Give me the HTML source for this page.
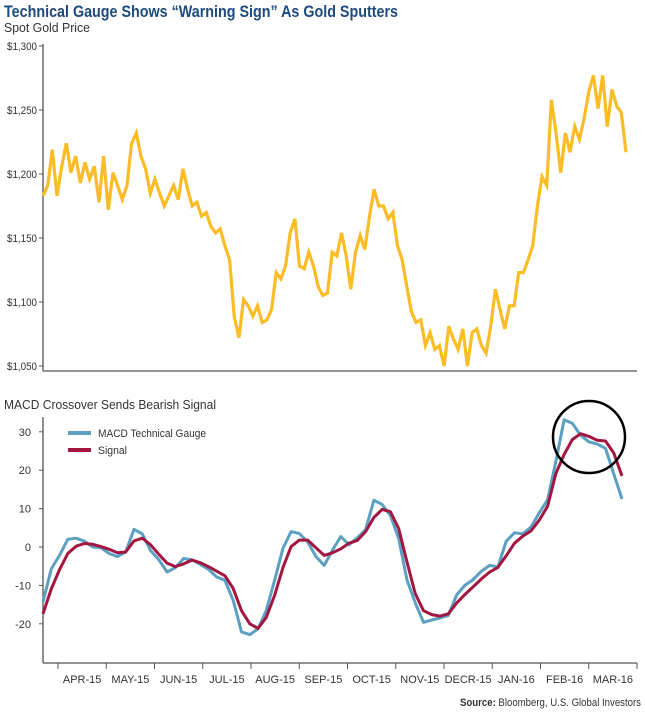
<!DOCTYPE html>
<html><head><meta charset="utf-8">
<style>
html,body{margin:0;padding:0;background:#fff;}
body{width:645px;height:714px;overflow:hidden;font-family:"Liberation Sans Narrow","Liberation Sans",sans-serif;}
svg text{font-family:"Liberation Sans Narrow","Liberation Sans",sans-serif;}
</style></head>
<body>
<svg id="chart" width="645" height="714" viewBox="0 0 645 714" xmlns="http://www.w3.org/2000/svg">
<text x="4" y="17" font-size="16.5" font-weight="bold" fill="#1d4a7c" textLength="394" lengthAdjust="spacingAndGlyphs">Technical Gauge Shows “Warning Sign” As Gold Sputters</text>
<text x="4" y="32" font-size="13" fill="#333" textLength="86" lengthAdjust="spacingAndGlyphs">Spot Gold Price</text>
<text x="4" y="409" font-size="13" fill="#333" textLength="212" lengthAdjust="spacingAndGlyphs">MACD Crossover Sends Bearish Signal</text>
<g id="goldAxes"></g>
<g id="goldSeries"></g>
<g id="macdAxes"></g>
<g id="macdSeries"></g>
<g>
<line x1="68" y1="433" x2="91" y2="433" stroke="#5b9fc2" stroke-width="4"/>
<text x="98" y="437" font-size="11" fill="#333" textLength="108" lengthAdjust="spacingAndGlyphs">MACD Technical Gauge</text>
<line x1="68" y1="450" x2="91" y2="450" stroke="#a3163f" stroke-width="4"/>
<text x="98" y="454" font-size="11" fill="#333" textLength="29" lengthAdjust="spacingAndGlyphs">Signal</text>
</g>
<ellipse cx="589" cy="437" rx="36" ry="36" fill="none" stroke="#000" stroke-width="2.5"/>
<text x="641" y="706" font-size="11" fill="#333" text-anchor="end" textLength="181" lengthAdjust="spacingAndGlyphs"><tspan font-weight="bold">Source:</tspan> Bloomberg, U.S. Global Investors</text>
</svg>
<script>
const goldTicks=[1050,1100,1150,1200,1250,1300];
const goldTickLabels=["$1,050","$1,100","$1,150","$1,200","$1,250","$1,300"];
const goldPrices=[1183,1191,1219,1183,1206,1224,1201,1214,1193,1209,1196,1206,1178,1214,1172,1201,1191,1180,1191,1224,1232,1214,1204,1185,1196,1185,1175,1183,1191,1180,1204,1188,1175,1178,1167,1170,1159,1154,1157,1144,1133,1089,1072,1102,1097,1089,1097,1084,1086,1094,1123,1118,1128,1154,1165,1128,1126,1139,1128,1112,1105,1107,1139,1136,1154,1136,1110,1139,1152,1141,1167,1188,1175,1175,1165,1170,1144,1133,1112,1092,1084,1086,1066,1076,1063,1066,1050,1081,1071,1063,1079,1050,1076,1079,1066,1060,1081,1110,1094,1079,1097,1097,1123,1123,1133,1144,1175,1198,1191,1258,1232,1201,1232,1217,1237,1227,1243,1264,1277,1251,1277,1237,1266,1253,1248,1217];
const macdTicks=[-20,-10,0,10,20,30];
const monthLabels=["APR-15","MAY-15","JUN-15","JUL-15","AUG-15","SEP-15","OCT-15","NOV-15","DECR-15","JAN-16","FEB-16","MAR-16"];
const macdValues=[-14.3,-5.7,-2.2,2.0,2.3,1.5,0,-0.2,-1.7,-2.5,-1.3,4.6,3.4,-0.9,-3.3,-6.5,-5.4,-3,-3.3,-4.5,-5.8,-7.8,-8.7,-13.9,-22.1,-22.8,-21.3,-16.5,-8.7,-0.4,4.0,3.5,1.3,-2.5,-4.8,-0.8,2.7,0.6,2.4,4.5,12.2,11.1,8.2,2.2,-8.5,-14.5,-19.6,-19,-18.5,-17.8,-12.5,-10,-8.5,-6.3,-4.8,-5.2,1.5,3.7,3.4,5.2,8.9,12.3,22.2,33.1,32.2,29.1,27.4,26.8,25.7,19.1,12.5];
const signalValues=[-17.4,-10.9,-5.9,-1.7,0.2,0.9,0.7,0.1,-0.6,-1.5,-1.3,1.6,2.3,0.6,-1.9,-4.2,-5.1,-4.4,-3.4,-4.1,-5.1,-6.3,-7.5,-10.8,-16.6,-20,-21.2,-18.3,-12.6,-5.4,0.1,1.8,1.8,-0.2,-2.2,-1.5,-0.5,1,1.7,4,7.7,9.8,9.2,4.8,-3.8,-12.1,-16.6,-17.6,-18,-17.4,-14.6,-12.4,-10.4,-8.3,-6.5,-5.3,-2.3,1,2.8,4.2,7,10.6,19.1,24.1,28,29.5,28.8,27.8,27.6,24.5,18.5];

const NS="http://www.w3.org/2000/svg";
function mk(tag,attrs,parent){const e=document.createElementNS(NS,tag);for(const k in attrs)e.setAttribute(k,attrs[k]);parent.appendChild(e);return e;}
const AX=43;
const gy=p=>366-(p-1050)*1.28;
const gx=i=>AX+i*(626-AX)/(goldPrices.length-1);
const ga=document.getElementById('goldAxes');
let l=mk('line',{x1:AX,y1:44,x2:AX,y2:371,stroke:'#555','stroke-width':1.3},ga);


l=mk('line',{x1:AX,y1:371,x2:637,y2:371,stroke:'#555','stroke-width':1.3},ga);


goldTicks.forEach((t,i)=>{
 const tk=mk('line',{x1:AX-4,y1:gy(t),x2:AX,y2:gy(t),stroke:'#555','stroke-width':1},ga);
 
 
 const tx=mk('text',{x:AX-6,y:gy(t)+4,'font-size':11,fill:'#333','text-anchor':'end',textLength:30,lengthAdjust:'spacingAndGlyphs'},ga);
 tx.textContent=goldTickLabels[i];
 
 
});
const gs=document.getElementById('goldSeries');
const gp=mk('polyline',{points:goldPrices.map((p,i)=>gx(i).toFixed(1)+','+gy(p).toFixed(1)).join(' '),fill:'none',stroke:'#fbbc26','stroke-width':3.2,'stroke-linejoin':'miter'},gs);



const my=v=>547-v*3.84;
const mx=i=>AX+i*(622-AX)/(macdValues.length-1);
const ma=document.getElementById('macdAxes');
l=mk('line',{x1:AX,y1:417,x2:AX,y2:663,stroke:'#555','stroke-width':1.3},ma);


l=mk('line',{x1:AX,y1:663,x2:637,y2:663,stroke:'#555','stroke-width':1.3},ma);


macdTicks.forEach(t=>{
 const tk=mk('line',{x1:AX-4,y1:my(t),x2:AX,y2:my(t),stroke:'#555','stroke-width':1},ma);
 
 
 const tx=mk('text',{x:AX-12,y:my(t)+4,'font-size':11,fill:'#333','text-anchor':'end'},ma);
 tx.textContent=String(t);
 
 
});
const mStart=58,mStep=(637-58)/12;
for(let k=0;k<=12;k++){
 const x=mStart+k*mStep;
 const tk=mk('line',{x1:x,y1:663,x2:x,y2:669,stroke:'#555','stroke-width':1},ma);
 
 
}
monthLabels.forEach((m,k)=>{
 const tx=mk('text',{x:mStart+(k+0.5)*mStep,y:683,'font-size':11,fill:'#333','text-anchor':'middle'},ma);
 tx.textContent=m;
 
 
});
const ms=document.getElementById('macdSeries');
const bl=mk('polyline',{points:macdValues.map((v,i)=>mx(i).toFixed(1)+','+my(v).toFixed(1)).join(' '),fill:'none',stroke:'#5b9fc2','stroke-width':3,'stroke-linejoin':'round'},ms);


const rl=mk('polyline',{points:signalValues.map((v,i)=>mx(i).toFixed(1)+','+my(v).toFixed(1)).join(' '),fill:'none',stroke:'#a3163f','stroke-width':3,'stroke-linejoin':'round'},ms);


</script>
</body></html>
